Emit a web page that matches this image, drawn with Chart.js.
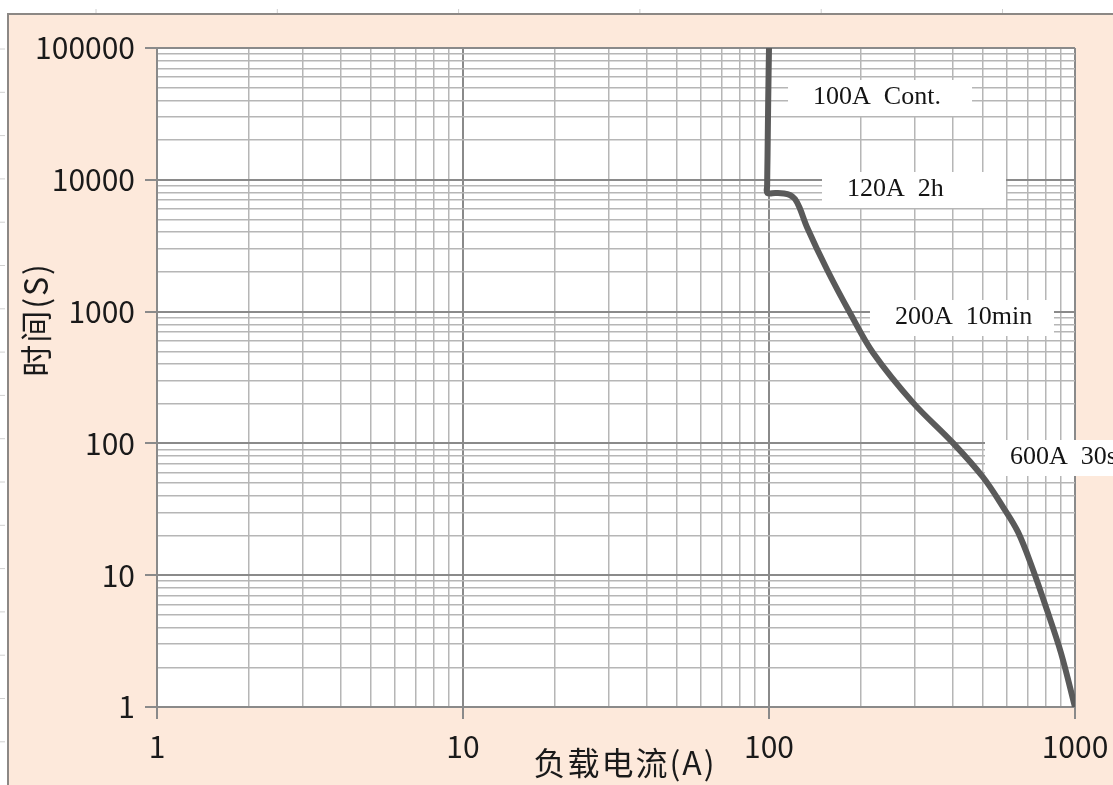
<!DOCTYPE html>
<html>
<head>
<meta charset="utf-8">
<script src="https://cdn.jsdelivr.net/npm/chart.js@4"></script>
<style>
html,body{margin:0;padding:0;background:#fff;}
#wrap{width:1113px;height:785px;}
</style>
</head>
<body>
<div id="wrap"><canvas id="c" width="1113" height="785"></canvas></div>
<script>
// ---- data ----
const currentA = [100, 99.4, 98.9, 98.6, 98.7, 105, 112, 117, 121.6, 126, 133, 155, 184, 219, 296, 399, 500, 582, 651, 724, 810, 900, 1000];
const timeS    = [100000, 40000, 15000, 9000, 7950, 7930, 7880, 7670, 7150, 6110, 4385, 2068, 975, 485, 203, 101, 55.6, 32.9, 21.3, 11.5, 5.44, 2.57, 1];

const xTickValues = [1, 10, 100, 1000];
const xTickLabels = ['1', '10', '100', '1000'];
const yTickValues = [1, 10, 100, 1000, 10000, 100000];
const yTickLabels = ['1', '10', '100', '1000', '10000', '100000'];

const noteTexts = ['100A Cont.', '120A 2h', '200A 10min', '600A 30s'];
const noteLeftA = [115.4, 149, 213.8, 508];
const noteMidS  = [41750, 8368, 894, 77.5];

const xTitle = '负载电流(A)';
const yTitle = '时间(S)';

// ---- helpers ----
function isDecade(v){ const l = Math.log10(v); return Math.abs(l - Math.round(l)) < 1e-9; }
function withMinor(majors){
  const out = [];
  for (let i = 0; i < majors.length; i++){
    out.push(majors[i]);
    if (i < majors.length - 1){
      for (let k = 2; k <= 9; k++) out.push(majors[i] * k);
    }
  }
  return out;
}
function labelFor(values, labels, v){
  for (let i = 0; i < values.length; i++) if (Math.abs(values[i] - v) / values[i] < 1e-9) return labels[i];
  return '';
}

const MAJOR = '#8a8a8a', MINOR = '#b6b6b6';

const bgPlugin = {
  id: 'bg',
  beforeDraw(chart){
    const ctx = chart.ctx, W = chart.width, H = chart.height, a = chart.chartArea;
    ctx.save();
    ctx.fillStyle = '#ffffff';
    ctx.fillRect(0, 0, W, H);
    ctx.fillStyle = '#fde9db';
    ctx.fillRect(8, 14, W - 8, H - 14);
    ctx.strokeStyle = '#8c8885';
    ctx.lineWidth = 2;
    ctx.beginPath();
    ctx.moveTo(8, H); ctx.lineTo(8, 14); ctx.lineTo(W, 14);
    ctx.stroke();
    // ruler marks
    ctx.strokeStyle = '#d0d0d0';
    ctx.lineWidth = 1;
    ctx.beginPath();
    for (let x = 96; x < W; x += 181.3){ ctx.moveTo(x, 9); ctx.lineTo(x, 13); }
    for (let y = 49; y < H; y += 43.3){ ctx.moveTo(0, y); ctx.lineTo(5, y); }
    ctx.stroke();
    ctx.fillStyle = '#ffffff';
    ctx.fillRect(a.left, a.top, a.right - a.left, a.bottom - a.top);
    ctx.restore();
  }
};

const notePlugin = {
  id: 'notes',
  beforeDatasetsDraw(chart){
    const ctx = chart.ctx, xs = chart.scales.x, ys = chart.scales.y;
    ctx.save();
    ctx.font = '26px "Liberation Serif"';
    ctx.textBaseline = 'middle';
    ctx.textAlign = 'left';
    for (let i = 0; i < noteTexts.length; i++){
      const left = xs.getPixelForValue(noteLeftA[i]);
      const mid = ys.getPixelForValue(noteMidS[i]);
      ctx.fillStyle = '#ffffff';
      ctx.fillRect(left, mid - 18, 184, 36);
      ctx.fillStyle = '#141414';
      ctx.fillText(noteTexts[i].replace(' ', '  '), left + 25, mid - 1);
    }
    ctx.restore();
  },
  afterDraw(chart){
    const ctx = chart.ctx, a = chart.chartArea;
    ctx.save();
    ctx.fillStyle = '#1a1a1a';
    ctx.font = '32px "Noto Sans CJK SC"';
    ctx.letterSpacing = '2px';
    ctx.textAlign = 'center';
    ctx.textBaseline = 'middle';
    ctx.fillText(xTitle, (a.left + a.right) / 2 + 9, a.bottom + 56);
    ctx.translate(36, (a.top + a.bottom) / 2 - 58);
    ctx.rotate(-Math.PI / 2);
    ctx.fillText(yTitle, 0, 0);
    ctx.restore();
  }
};

const gridCfg = {
  color: c => (c.tick && isDecade(c.tick.value)) ? MAJOR : MINOR,
  lineWidth: c => (c.tick && isDecade(c.tick.value)) ? 2 : 1.5,
  tickColor: c => (c.tick && isDecade(c.tick.value)) ? MAJOR : 'rgba(0,0,0,0)',
  tickWidth: 2,
  tickLength: 12,
  drawOnChartArea: true
};

new Chart(document.getElementById('c'), {
  type: 'line',
  data: {
    datasets: [{
      data: currentA.map((c, i) => ({x: c, y: timeS[i]})),
      borderColor: '#5a5a5a',
      borderWidth: 6,
      pointRadius: 0,
      tension: 0.35,
      borderCapStyle: 'round',
      borderJoinStyle: 'round',
      fill: false
    }]
  },
  options: {
    responsive: false,
    animation: false,
    devicePixelRatio: 1,
    layout: { padding: { left: 0, top: 48, right: 38, bottom: 0 } },
    plugins: { legend: { display: false }, tooltip: { enabled: false } },
    scales: {
      x: {
        type: 'logarithmic',
        min: 1, max: 1000,
        afterBuildTicks: s => { s.ticks = withMinor(xTickValues).map(v => ({value: v, major: isDecade(v)})); },
        afterFit: s => { s.height = 78; s.paddingLeft = 0; s.paddingRight = 0; },
        grid: gridCfg,
        border: { display: true, color: MAJOR, width: 2 },
        ticks: {
          autoSkip: false, maxRotation: 0, minRotation: 0, padding: 10,
          color: '#1a1a1a',
          font: { family: '"Noto Sans CJK SC"', size: 30 },
          callback: v => labelFor(xTickValues, xTickLabels, v)
        }
      },
      y: {
        type: 'logarithmic',
        min: 1, max: 100000,
        afterBuildTicks: s => { s.ticks = withMinor(yTickValues).map(v => ({value: v, major: isDecade(v)})); },
        afterFit: s => { s.width = 157; s.paddingTop = 0; s.paddingBottom = 0; },
        grid: gridCfg,
        border: { display: true, color: MAJOR, width: 2 },
        ticks: {
          autoSkip: false, padding: 10,
          color: '#1a1a1a',
          font: { family: '"Noto Sans CJK SC"', size: 30 },
          callback: v => labelFor(yTickValues, yTickLabels, v)
        }
      }
    }
  },
  plugins: [bgPlugin, notePlugin]
});
</script>
</body>
</html>
